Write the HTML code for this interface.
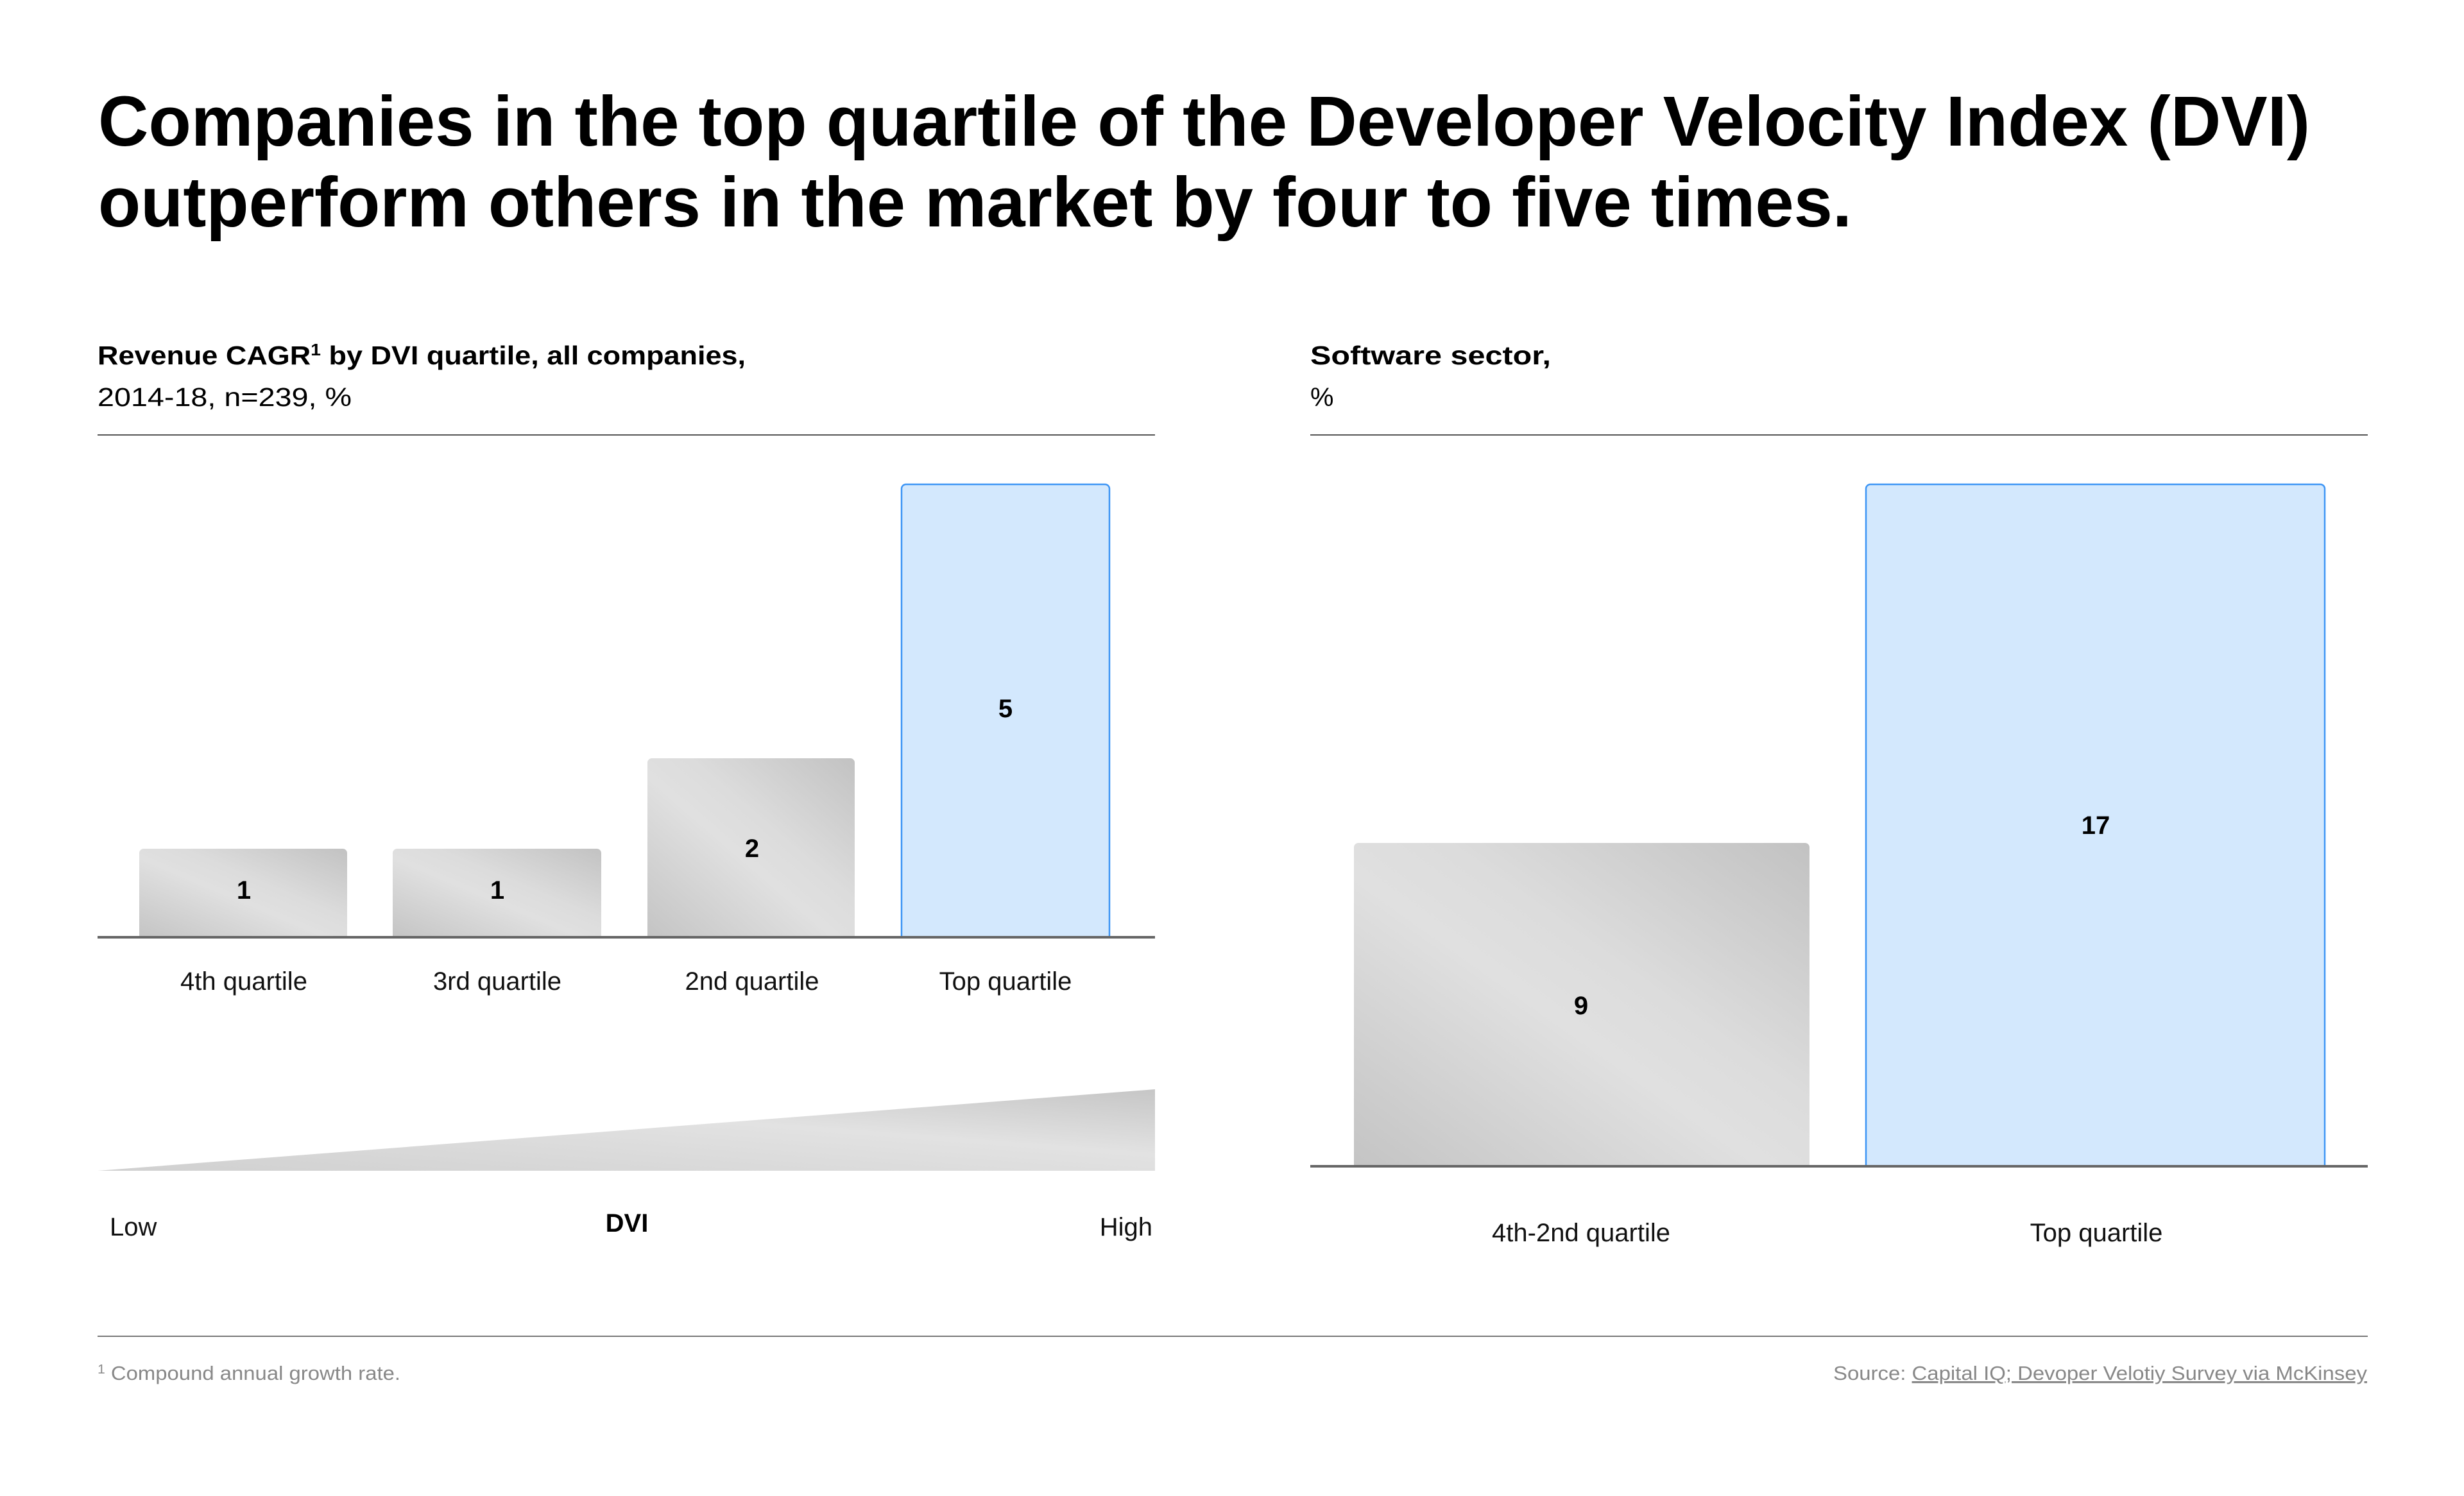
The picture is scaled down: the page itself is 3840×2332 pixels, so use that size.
<!DOCTYPE html>
<html><head><meta charset="utf-8"><style>html,body{margin:0;padding:0;background:#fff}svg{display:block}</style></head>
<body>
<svg width="3840" height="2332" viewBox="0 0 3840 2332" xmlns="http://www.w3.org/2000/svg" font-family="Liberation Sans, sans-serif">
<defs>
<linearGradient id="g" x1="0" y1="1" x2="1" y2="0">
<stop offset="0" stop-color="#c4c4c4"/><stop offset="0.45" stop-color="#e0e0e0"/><stop offset="0.6" stop-color="#dcdcdc"/><stop offset="1" stop-color="#c2c2c2"/>
</linearGradient>
<linearGradient id="w" x1="0" y1="1" x2="1" y2="0">
<stop offset="0" stop-color="#d0d0d0"/><stop offset="0.6" stop-color="#e2e2e2"/><stop offset="1" stop-color="#c6c6c6"/>
</linearGradient>
</defs>
<rect width="3840" height="2332" fill="#fff"/>
<text x="153" y="227" font-size="110" font-weight="bold" fill="#000" textLength="3447" lengthAdjust="spacingAndGlyphs">Companies in the top quartile of the Developer Velocity Index (DVI)</text>
<text x="153" y="353" font-size="110" font-weight="bold" fill="#000" textLength="2733" lengthAdjust="spacingAndGlyphs">outperform others in the market by four to five times.</text>

<text x="152" y="568" font-size="41" font-weight="bold" textLength="1010" lengthAdjust="spacingAndGlyphs">Revenue CAGR<tspan font-size="26" dy="-14">1</tspan><tspan dy="14"> by DVI quartile, all companies,</tspan></text>
<text x="152" y="633" font-size="41" textLength="396" lengthAdjust="spacingAndGlyphs">2014-18, n=239, %</text>
<rect x="152" y="677" width="1648" height="2" fill="#555"/>

<text x="2042" y="568" font-size="41" font-weight="bold" textLength="375" lengthAdjust="spacingAndGlyphs">Software sector,</text>
<text x="2042" y="633" font-size="41">%</text>
<rect x="2042" y="677" width="1648" height="2" fill="#555"/>

<path d="M217 1461V1330a7 7 0 0 1 7-7h310a7 7 0 0 1 7 7V1461Z" fill="url(#g)"/>
<path d="M612 1461V1330a7 7 0 0 1 7-7h311a7 7 0 0 1 7 7V1461Z" fill="url(#g)"/>
<path d="M1009 1461V1189a7 7 0 0 1 7-7h309a7 7 0 0 1 7 7V1461Z" fill="url(#g)"/>
<path d="M1405 1461V762a7 7 0 0 1 7-7h310a7 7 0 0 1 7 7V1461" fill="#d3e8fd" stroke="#3d95f5" stroke-width="2.5"/>
<rect x="152" y="1459" width="1648" height="4" fill="#666"/>
<g font-size="40" font-weight="bold" text-anchor="middle">
<text x="380" y="1401">1</text><text x="775" y="1401">1</text><text x="1172" y="1336">2</text><text x="1567" y="1118">5</text>
</g>
<g font-size="40" text-anchor="middle" fill="#111">
<text x="380" y="1543">4th quartile</text><text x="775" y="1543">3rd quartile</text><text x="1172" y="1543">2nd quartile</text><text x="1567" y="1543">Top quartile</text>
</g>
<path d="M152 1825L1800 1698V1825Z" fill="url(#w)"/>
<text x="171" y="1926" font-size="40" fill="#111">Low</text>
<text x="977" y="1920" font-size="40" font-weight="bold" text-anchor="middle">DVI</text>
<text x="1796" y="1926" font-size="40" fill="#111" text-anchor="end">High</text>

<path d="M2110 1818V1321a7 7 0 0 1 7-7h696a7 7 0 0 1 7 7V1818Z" fill="url(#g)"/>
<path d="M2908 1818V762a7 7 0 0 1 7-7h701a7 7 0 0 1 7 7V1818" fill="#d3e8fd" stroke="#3d95f5" stroke-width="2.5"/>
<rect x="2042" y="1816" width="1648" height="4" fill="#666"/>
<g font-size="40" font-weight="bold" text-anchor="middle">
<text x="2464" y="1581">9</text><text x="3266" y="1300">17</text>
</g>
<g font-size="40" text-anchor="middle" fill="#111">
<text x="2464" y="1935">4th-2nd quartile</text><text x="3267" y="1935">Top quartile</text>
</g>

<rect x="152" y="2082" width="3538" height="2" fill="#777"/>
<text x="152" y="2151" font-size="31" fill="#888" textLength="472" lengthAdjust="spacingAndGlyphs"><tspan font-size="20" dy="-10">1</tspan><tspan dy="10"> Compound annual growth rate.</tspan></text>
<text x="2857" y="2151" font-size="31" fill="#888" textLength="832" lengthAdjust="spacingAndGlyphs">Source: <tspan text-decoration="underline">Capital IQ; Devoper Velotiy Survey via McKinsey</tspan></text>
</svg>
</body></html>
